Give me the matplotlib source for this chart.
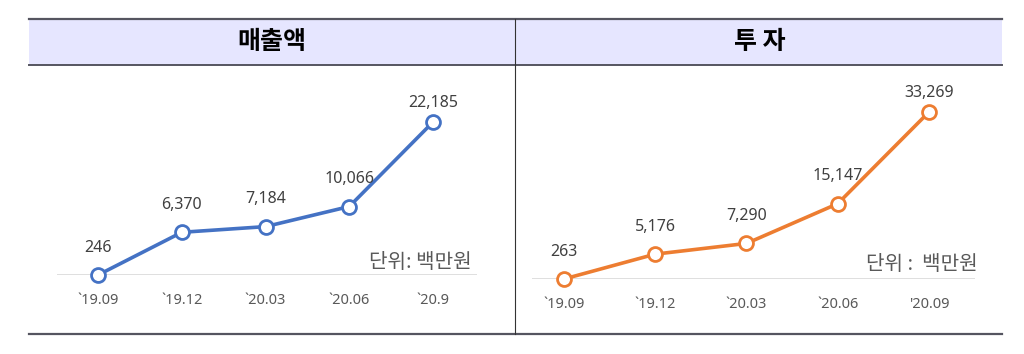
import matplotlib.pyplot as plt
from matplotlib.patches import Rectangle
from matplotlib.lines import Line2D

plt.rcParams['font.family'] = ['Noto Sans CJK KR', 'DejaVu Sans']

# 매출액 (left panel)
sales_labels = ['`19.09', '`19.12', '`20.03', '`20.06', '`20.9']
sales = [246, 6370, 7184, 10066, 22185]
# 투자 (right panel)
inv_labels = ['`19.09', '`19.12', '`20.03', '`20.06', "'20.09"]
invest = [263, 5176, 7290, 15147, 33269]

W, H = 1024, 354
fig = plt.figure(figsize=(W / 100, H / 100), dpi=100)

def fx(px):
    return px / W

def fy(py):
    return 1 - py / H

# table frame
fig.patches.append(Rectangle((fx(29), fy(65)), fx(1002 - 29), (65 - 18.5) / H,
                             transform=fig.transFigure, facecolor='#e6e6ff',
                             edgecolor='none', zorder=0))
for y in (18.5, 65, 334):
    fig.lines.append(Line2D([fx(29), fx(1002)], [fy(y), fy(y)], transform=fig.transFigure,
                            color='#555560', lw=1.6 if y != 65 else 1.4))
fig.lines.append(Line2D([fx(515), fx(515)], [fy(18.5), fy(334)], transform=fig.transFigure,
                        color='#333333', lw=0.8))
fig.text(fx(272), fy(42), '매출액', ha='center', va='center', fontsize=18, fontweight='bold', color='black')
fig.text(fx(760), fy(42), '투 자', ha='center', va='center', fontsize=18, fontweight='bold', color='black')

num_font = ['Noto Sans', 'DejaVu Sans']


def panel(x0, x1, ybase, ytop, xlim, vals, labels, color, ymax, unit, unit_xy):
    ax = fig.add_axes([fx(x0), fy(ybase), fx(x1 - x0), (ybase - ytop) / H])
    ax.plot(range(len(vals)), vals, color=color, lw=2.6, marker='o', markersize=10,
            markerfacecolor='white', markeredgecolor=color, markeredgewidth=2, clip_on=False, zorder=3)
    ax.set_xlim(*xlim)
    ax.set_ylim(vals[0], ymax)
    ax.axhline(vals[0], color='#d9d9d9', lw=1.2, zorder=1)
    for s in ax.spines.values():
        s.set_visible(False)
    ax.set_yticks([])
    ax.set_xticks(range(len(vals)))
    ax.set_xticklabels(labels, fontsize=10.5, color='#595959', family=num_font)
    ax.tick_params(axis='x', length=0, pad=13)
    for i, v in enumerate(vals):
        off = 8 if i == len(vals) - 1 else 14
        ax.annotate(f'{v:,}', (i, v), xytext=(0, off), textcoords='offset points',
                    ha='center', va='bottom', fontsize=11.5, color='#404040',
                    family=num_font, fontweight='medium')
    fig.text(fx(unit_xy[0]), fy(unit_xy[1]), unit, ha='right', va='center', fontsize=14.5, color='#595959')
    return ax


panel(57, 477, 275, 100, (-0.49, 4.525), sales, sales_labels, '#4472c4', 246 + 175 * 143.4,
      '단위: 백만원', (472, 262))
panel(532, 975, 279, 90, (-0.35, 4.504), invest, inv_labels, '#ed7d31', 263 + 189 * 197.6,
      '단위 :  백만원', (978, 265))

fig.savefig('out.png', dpi=100)
